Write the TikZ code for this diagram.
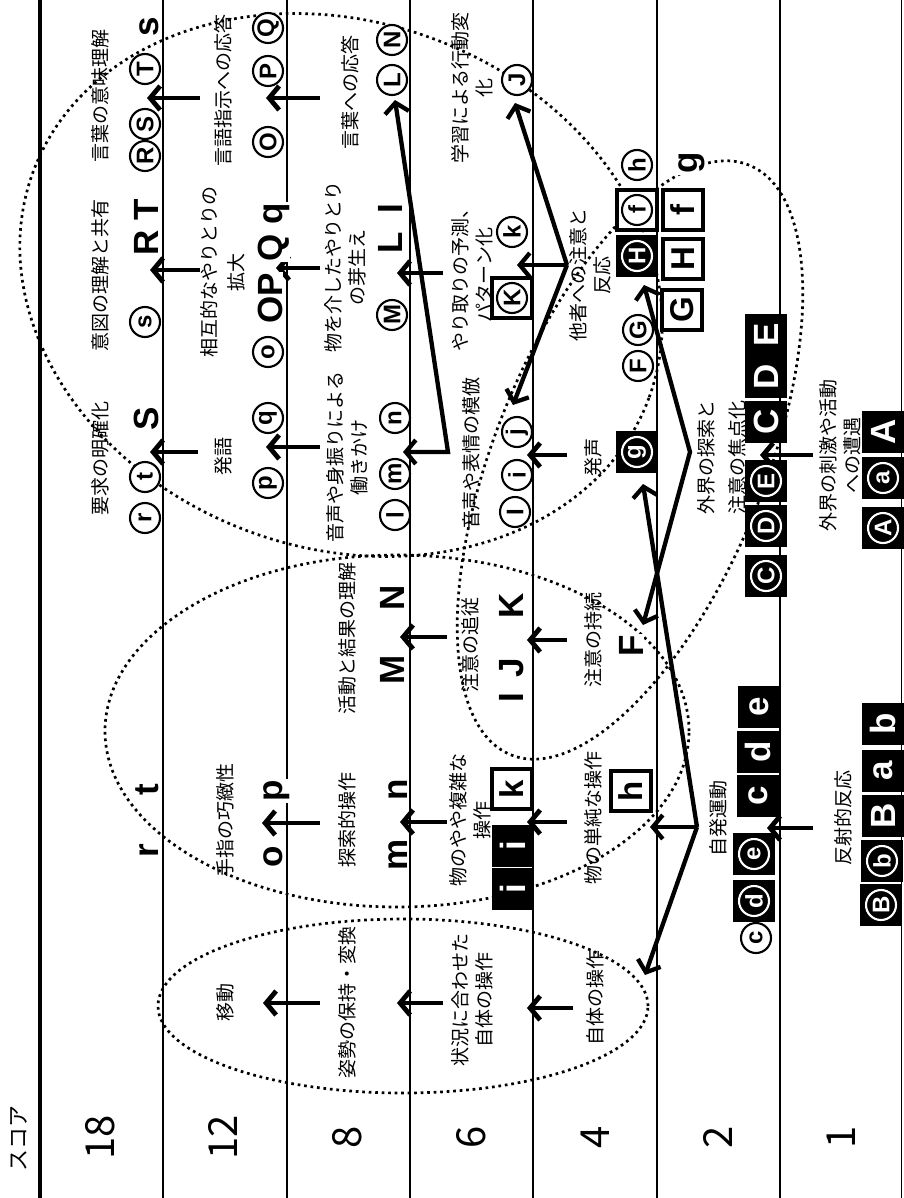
\documentclass[tikz,border=0pt]{standalone}
\usepackage{fontspec}
\setmainfont{Noto Sans CJK JP}
\newfontfamily\lat{Liberation Sans}
\usetikzlibrary{arrows.meta}
\begin{document}
\begin{tikzpicture}[x=1pt,y=-1pt,
  lbl/.style={rotate=90, align=center, inner sep=0pt, font=\fontsize{19}{24}\selectfont},
  num/.style={rotate=90, inner sep=0pt, font=\fontsize{40}{40}\selectfont},
  big/.style={rotate=90, inner sep=1pt, fill=white, anchor=base, font=\lat\bfseries\fontsize{35}{35}\selectfont},
  cl/.style={rotate=90, circle, draw, line width=2.1pt, fill=white, minimum size=30pt, inner sep=0pt, font=\lat\bfseries\fontsize{24}{24}\selectfont},
  clw/.style={cl, draw=white, text=white, fill=black},
  wbox/.style={rotate=90, rectangle, draw, line width=3.6pt, fill=white, minimum size=40pt, inner sep=0pt, font=\lat\bfseries\fontsize{33}{33}\selectfont},
  bbox/.style={rotate=90, rectangle, fill=black, text=white, minimum size=42pt, inner sep=0pt, font=\lat\bfseries\fontsize{35}{35}\selectfont},
  arr/.style={line width=4.8pt, -{Straight Barb[length=10pt,width=24pt]}},
  harr/.style={line width=4.3pt, -{Straight Barb[length=10pt,width=24pt]}},
  dharr/.style={line width=4.3pt, {Straight Barb[length=10pt,width=24pt]}-{Straight Barb[length=10pt,width=24pt]}},
  dots/.style={line width=2.7pt, dash pattern=on 2.7pt off 3.8pt},
  band/.style={line width=1.2pt}]
\useasboundingbox (0,0) rectangle (903,1198);
\fill[white] (0,0) rectangle (903,1198);

% ---- dotted groupings ----
\draw[dots, rotate around={-20:(341,285)}] (341,285) ellipse [x radius=328pt, y radius=263pt];
\draw[dots] (397,731) ellipse [x radius=292pt, y radius=176pt];
\draw[dots] (403,1006) ellipse [x radius=245pt, y radius=87pt];
\draw[dots, rotate around={68:(630,460)}] (630,460) ellipse [x radius=318pt, y radius=135pt];

% ---- score bands ----
\draw[line width=3.3pt] (40,0) -- (40,1198);
\foreach \xx in {163,287,410,533,657,780,901.5} \draw[band] (\xx,0) -- (\xx,1198);

\node[rotate=90, inner sep=0pt, font=\fontsize{22}{22}\selectfont] (score) at (19,1138) {スコア};
\node[num] (s18) at (100,1137) {18};
\node[num] (s12) at (223,1137) {12};
\node[num] (s8) at (347,1137) {8};
\node[num] (s6) at (471,1137) {6};
\node[num] (s4) at (595,1137) {4};
\node[num] (s2) at (718,1137) {2};
\node[num] (s1) at (841,1137) {1};

% ---- stage labels ----
\node[lbl] (t1a) at (100,96) {言葉の意味理解};
\node[lbl] (t1b) at (100,275) {意図の理解と共有};
\node[lbl] (t1c) at (100,458) {要求の明確化};
\node[lbl] (t2a) at (223,91) {言語指示への応答};
\node[lbl, font=\fontsize{19}{27}\selectfont] (t2b) at (223,272) {相互的なやりとりの\\拡大};
\node[lbl] (t2c) at (223,456) {発語};
\node[lbl] (t2d) at (225,820) {手指の巧緻性};
\node[lbl] (t2e) at (225,1002) {移動};
\node[lbl] (t3a) at (350,93) {言葉への応答};
\node[lbl] (t3b) at (345,267) {物を介したやりとり\\の芽生え};
\node[lbl] (t3c) at (347,457) {音声や身振りによる\\働きかけ};
\node[lbl] (t3d) at (347,638) {活動と結果の理解};
\node[lbl] (t3e) at (347,820) {探索的操作};
\node[lbl] (t3f) at (347,1002) {姿勢の保持・変換};
\node[lbl] (t4a) at (472,88) {学習による行動変\\化};
\node[lbl] (t4b) at (472,275) {やり取りの予測、\\パターン化};
\node[lbl] (t4c) at (471,453) {音声や表情の模倣};
\node[lbl] (t4d) at (470,645) {注意の追従};
\node[lbl] (t4e) at (470,820) {物のやや複雑な\\操作};
\node[lbl] (t4f) at (472,1000) {状況に合わせた\\自体の操作};
\node[lbl] (t5a) at (590,275) {他者への注意と\\反応};
\node[lbl] (t5b) at (593,457) {発声};
\node[lbl] (t5c) at (593,640) {注意の持続};
\node[lbl] (t5d) at (593,818) {物の単純な操作};
\node[lbl] (t5e) at (595,998) {自体の操作};
\node[lbl, font=\fontsize{19}{31}\selectfont] (t6a) at (722,457) {外界の探索と\\注意の焦点化};
\node[lbl] (t6b) at (718,818) {自発運動};
\node[lbl] (t7a) at (840,455) {外界の刺激や活動\\への遭遇};
\node[lbl] (t7b) at (843,818) {反射的反応};

% ---- arrow end points ----
\coordinate (a1s) at (200,98);  \coordinate (a1t) at (147,98);
\coordinate (a2s) at (200,270); \coordinate (a2t) at (150,270);
\coordinate (a3s) at (198,452); \coordinate (a3t) at (150,452);
\coordinate (b1s) at (320,98);  \coordinate (b1t) at (266,98);
\coordinate (b2s) at (320,268); \coordinate (b2t) at (276,268);
\coordinate (b3s) at (320,447); \coordinate (b3t) at (266,447);
\coordinate (b4s) at (320,823); \coordinate (b4t) at (262,823);
\coordinate (b5s) at (320,1003); \coordinate (b5t) at (263,1003);
\coordinate (c1s) at (443,273); \coordinate (c1t) at (397,273);
\coordinate (c2s) at (447,637); \coordinate (c2t) at (400,637);
\coordinate (c3s) at (447,822); \coordinate (c3t) at (400,822);
\coordinate (c4s) at (443,1003); \coordinate (c4t) at (397,1003);
\coordinate (d1s) at (567,455); \coordinate (d1t) at (527,455);
\coordinate (d2s) at (567,640); \coordinate (d2t) at (527,640);
\coordinate (d3s) at (567,822); \coordinate (d3t) at (527,822);
\coordinate (d4s) at (573,1008); \coordinate (d4t) at (527,1008);
\coordinate (e1s) at (813,455); \coordinate (e1t) at (760,455);
\coordinate (e2s) at (813,828); \coordinate (e2t) at (767,828);

\foreach \p in {a1,a2,a3,b1,b2,b3,b4,b5,c1,c2,c3,c4,d1,d2,d3,d4,e1,e2}
  \draw[arr] (\p s) -- (\p t);

% ---- branching arrows ----
\coordinate (h1) at (448,452); \coordinate (h1a) at (403,452); \coordinate (h1b) at (395,100);
\coordinate (h2) at (567,265); \coordinate (h2a) at (515,103); \coordinate (h2b) at (517,265); \coordinate (h2c) at (513,405);
\coordinate (h3) at (690,452); \coordinate (h3a) at (644,285); \coordinate (h3b) at (643,625);
\coordinate (h4) at (697,827); \coordinate (h4a) at (643,484); \coordinate (h4b) at (650,827); \coordinate (h4c) at (645,975);

\draw[dharr] (h1a) -- (h1) -- (h1b);
\draw[harr] (h2) -- (h2a);
\draw[harr] (h2) -- (h2b);
\draw[harr] (h2) -- (h2c);
\draw[dharr] (h3a) -- (h3) -- (h3b);
\draw[harr] (h4) -- (h4a);
\draw[harr] (h4) -- (h4b);
\draw[harr] (h4) -- (h4c);

% ---- score 18 items ----
\node[big] (s18a) at (158,27) {s};
\node[cl] (cT1) at (145,69) {T};
\node[cl] (cS1) at (145,124) {S};
\node[cl] (cR1) at (145,156) {R};
\node[big] (RT1) at (158,227) {R T};
\node[cl] (cs1) at (145,322) {s};
\node[big] (S1) at (158,419) {S};
\node[cl] (ct1) at (145,477) {t};
\node[cl] (cr1) at (145,518) {r};
\node[big] (t18) at (158,790) {t};
\node[big] (r18) at (158,851) {r};

% ---- score 12 items ----
\node[cl] (cQ2) at (268,28) {Q};
\node[cl] (cP2) at (268,71) {P};
\node[cl] (cO2) at (268,142) {O};
\node[big] (Qq2) at (282,232) {Q q};
\node[big] (OP2) at (282,298) {OP};
\node[cl] (co2) at (268,352) {o};
\node[cl] (cq2) at (268,418) {q};
\node[cl] (cp2) at (268,483) {p};
\node[big] (p2) at (282,791) {p};
\node[big] (o2) at (282,857) {o};

% ---- score 8 items ----
\node[cl] (cN3) at (392,40) {N};
\node[cl] (cL3) at (392,80) {L};
\node[big] (I3) at (402,209) {I};
\node[big] (L3) at (402,243) {L};
\node[cl] (cM3) at (392,315) {M};
\node[cl] (cn3) at (395,418) {n};
\node[cl] (cm3) at (395,474) {m};
\node[cl] (cl3) at (395,515) {l};
\node[big] (N3) at (404,598) {N};
\node[big] (M3) at (404,670) {M};
\node[big] (n3) at (407,790) {n};
\node[big] (m3) at (407,855) {m};

% ---- score 6 items ----
\node[cl] (cJ4) at (517,80) {J};
\node[cl] (ck4) at (512,232) {k};
\node[wbox] (bK4) at (512,298) {};
\node[cl] (cK4) at (512,298) {K};
\node[cl] (cj4) at (517,432) {j};
\node[cl] (ci4) at (517,475) {i};
\node[cl] (cI4) at (515,512) {I};
\node[big] (K4) at (523,606) {K};
\node[big] (J4) at (523,668) {J};
\node[big] (I4) at (523,698) {I};
\node[wbox] (k4) at (512,789) {k};
\node[bbox] (i4a) at (513,846) {i};
\node[bbox] (i4b) at (513,889) {i};

% ---- score 4 items ----
\node[cl] (ch5) at (637,165) {h};
\node[wbox] (bf5) at (637,210) {};
\node[cl] (cf5) at (637,210) {f};
\node[bbox] (bH5) at (637,256) {};
\node[clw] (cH5) at (637,256) {H};
\node[cl] (cG5) at (638,330) {G};
\node[cl] (cF5) at (638,366) {F};
\node[bbox] (bg5) at (637,452) {};
\node[clw] (cg5) at (637,452) {g};
\node[big] (F5) at (643,646) {F};
\node[wbox] (h5) at (631,791) {h};
\node[big] (g5) at (697,163) {g};
\node[wbox] (f5) at (683,210) {f};
\node[wbox] (H5) at (683,259) {H};
\node[wbox] (G5) at (682,310) {G};

% ---- score 2 items ----
\node[bbox] (E6) at (766,335) {E};
\node[bbox] (D6) at (766,377) {D};
\node[bbox] (C6) at (766,422) {C};
\node[bbox] (bE6) at (766,481) {};
\node[clw] (cE6) at (766,481) {E};
\node[bbox] (bD6) at (766,526) {};
\node[clw] (cD6) at (766,526) {D};
\node[bbox] (bC6) at (766,576) {};
\node[clw] (cC6) at (766,576) {C};
\node[bbox] (e6) at (759,707) {e};
\node[bbox] (d6) at (758,752) {d};
\node[bbox] (c6) at (758,796) {c};
\node[bbox] (be6) at (754,854) {};
\node[clw] (ce6) at (754,854) {e};
\node[bbox] (bd6) at (754,901) {};
\node[clw] (cd6) at (754,901) {d};
\node[cl] (cc6) at (756,938) {c};

% ---- score 1 items ----
\node[bbox] (A7) at (883,432) {A};
\node[bbox] (ba7) at (883,478) {};
\node[clw] (ca7) at (883,478) {a};
\node[bbox] (bA7) at (883,528) {};
\node[clw] (cA7) at (883,528) {A};
\node[bbox] (b7) at (883,724) {b};
\node[bbox] (a7) at (883,771) {a};
\node[bbox] (B7) at (883,816) {B};
\node[bbox] (bb7) at (882,861) {};
\node[clw] (cb7) at (882,861) {b};
\node[bbox] (bB7) at (881,905) {};
\node[clw] (cB7) at (881,905) {B};
\end{tikzpicture}
\end{document}
